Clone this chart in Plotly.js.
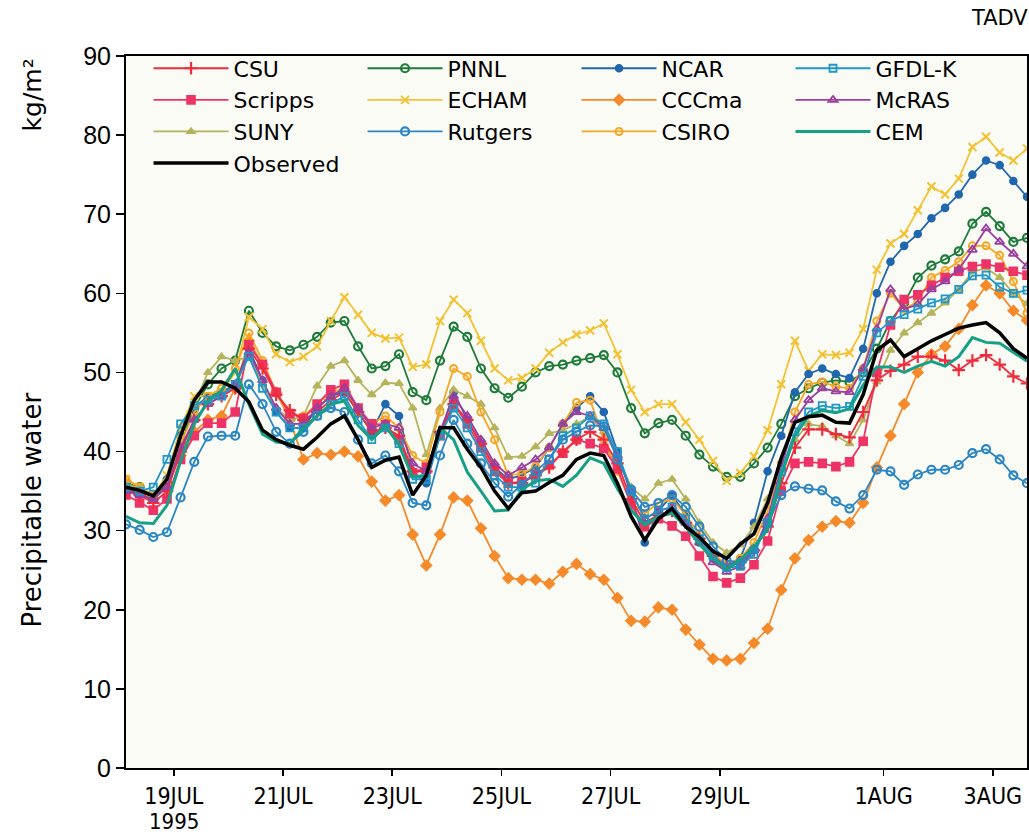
<!DOCTYPE html>
<html>
<head>
<meta charset="utf-8">
<script src="https://cdn.plot.ly/plotly-3.0.1.min.js"></script>
<style>html,body{margin:0;padding:0;background:#fff;}#chart{width:1029px;height:836px;}</style>
</head>
<body>
<div id="chart"></div>
<script>
// time (day of July 1995), values read every 6 h
const t = [18.125,18.375,18.625,18.875,19.125,19.375,19.625,19.875,20.125,20.375,20.625,20.875,21.125,21.375,21.625,21.875,22.125,22.375,22.625,22.875,23.125,23.375,23.625,23.875,24.125,24.375,24.625,24.875,25.125,25.375,25.625,25.875,26.125,26.375,26.625,26.875,27.125,27.375,27.625,27.875,28.125,28.375,28.625,28.875,29.125,29.375,29.625,29.875,30.125,30.375,30.625,30.875,31.125,31.375,31.625,31.875,32.125,32.375,32.625,32.875,33.125,33.375,33.625,33.875,34.125,34.375,34.625];

const tickVals = [19,21,23,25,27,29,32,34];
const tickText = ['19JUL','21JUL','23JUL','25JUL','27JUL','29JUL','1AUG','3AUG'];
const yearLabel = '1995';

const csu = [35,34.5,33.5,35,40,44,46,47,48,53, 50.5,47.2,45.2,44,45,46.5,47.5,45,42.5,43, 42,37.5,37.5,42.5,46,44,41,38,36,36, 37,38,40,41.5,42.5,41.5,38.5,34,31,32, 32.5,31,29,26.8,25.5,26,27.5,30.5,36,40.5, 42.8,42.8,42.2,41.8,45,49,50.2,51,52,52, 51.5,50.3,51.5,52.2,51,49.5,48.6];
const pnnl = [36,35.5,34,36,41,45.5,48.5,50.5,51.5,57.8, 55,53.3,52.8,53.5,54.5,56.3,56.5,53.3,50.5,50.8, 52.3,47.5,46.5,51.5,55.8,54.5,50.5,48,46.8,48.2, 50,50.8,51,51.5,51.8,52.2,50,45.5,42.3,43.6, 44,42,39.6,38.1,36.8,36.8,38.5,40.5,43.5,47, 48,48.7,49,48.8,50,53,56.5,58.8,62,63.5, 64.3,65.3,68.8,70.3,68.5,66.5,67];
const ncar = [35.5,34.5,34,36.5,42,45.5,47,47.5,48.5,53, 49,45,43,43,45.5,47,47.5,45,42.5,46, 44.5,37.5,36,42,47.5,44,41,38,36.5,37, 38,40.5,43.5,45.5,47,45,40,34.5,28.5,32.5, 34.5,32,28.5,26.5,25.5,26.5,31,37.5,42,47.5, 49.8,50.5,49.8,49.3,53,60,64,66,67.5,69.5, 70.8,72.5,75,76.8,76.2,74.2,72.2];
const gfdl = [35.5,35,35.5,39,43.5,45.8,46.5,47,48.5,52, 48,45,43,43,44.5,46,47,44,41.5,43, 41,36.5,36.5,42,45.5,43,40,37,35.5,35.5, 36,39,42,43,44.5,43.5,40,35,31.5,32.5, 33,31.5,29,26.8,25.3,25.5,27,31,37.5,42.5, 45,45.8,45.5,45.7,49.5,55,56.5,57.3,58,58.8, 59.3,60.5,62.2,62.3,60.8,60,60.4];
const scripps = [34.5,33.5,32.6,34,39,42,43.6,43.6,45,53.5, 51,47.5,44.8,44.2,46,47.8,48.5,45.5,43.5,43.4, 41.5,37.3,38,42,46,43.5,40.5,37.5,36,36.2, 37,38.3,39.8,41.5,41,40.4,37.8,33.3,30.5,31.5, 30.6,29.3,26.8,24.2,23.4,24,25.7,28.7,35,38.5, 38.7,38.5,38.1,38.7,41.3,50,56,59.2,59.8,61, 62,62.8,63.4,63.7,63.3,62.8,62.3];
const echam = [36.5,35.5,34.5,37,43,47,47,47.5,50,57, 55.5,52.3,51.3,52,53.3,56.5,59.5,57.3,55,54.3, 54.4,50.7,51,56.5,59.2,57.5,54,50.5,49,49.3, 50.5,52.5,53.8,54.8,55.3,56.2,52.3,47.8,45,46, 46,43.7,41.5,38.8,36.3,37.3,39.4,42.7,48.5,54, 50.2,52.3,52.2,52.5,55.5,63,66.3,67.5,70.5,73.5, 72.5,74.5,78.5,79.8,77.8,76.8,78.3];
const cccma = [36.2,35,34,35.5,39.5,42.5,44,44.5,48,54, 51,47.5,44,39,39.8,39.6,40,39.4,36.2,33.8, 34.5,29.5,25.6,29.5,34.2,33.8,30.3,26.8,24,23.8, 23.8,23.3,24.8,25.8,24.5,23.8,21.5,18.6,18.5,20.3, 20,17.5,15.6,13.8,13.6,13.8,15.8,17.6,22.5,26.5, 28.8,30.5,31.2,31,33.5,38,42,46,50,52.3, 53.3,55.5,58.5,61,60,57.8,56.6];
const mcras = [35,34.5,34,35.5,40.5,44,46,47,48.5,52.5, 49,45.5,43.5,43.5,45.5,47,48,45.5,43,43.5, 43,38.5,37.5,42.5,47,44.5,41.5,38.5,37,38, 39,40.5,43.5,45,44.5,43,39.5,35,31.5,32.5, 33,31,28.5,26,24.8,25.5,27.5,31.5,38,44, 46.5,48,47.6,47.5,50.5,55.5,60.5,58,58.6,60.5, 61.5,63,65.5,68.2,66.5,65,63.4];
const suny = [36,35.3,34.5,36.5,42,46,50,52,51.5,52, 48.5,45.5,44,44.5,48.3,50.8,51.5,49,47.2,48.7, 48.6,45.5,39.6,45.5,47.8,47,46,43,39.3,39.4, 40.6,42.3,42.7,43.5,44.4,42.5,39.5,35.5,34,36, 36.5,34,31,28.5,27.2,28.2,30.5,34,38,41.5, 43.5,43.2,42,41,44,48.8,52.8,55,56.3,57.5, 58.8,60.5,62.7,63.2,62,60,58.7];
const rutgers = [30.8,30.1,29.2,29.8,34.2,38.7,41.9,42,42,48.5, 46,42.5,41,42.5,44.5,45.5,45,41.5,38.5,39.5, 37.5,33.5,33.2,39.5,44,41,38.5,36,34.3,35.8, 37.5,39,41.5,42.5,43.3,43.2,39,35.2,33,33.5, 34.5,33,30.5,28,26.2,26,27.6,30.9,34.5,35.6, 35.3,35.1,33.7,32.8,34.5,37.7,37.5,35.8,37.1,37.7, 37.7,38.3,39.8,40.3,39,37,36];
const csiro = [36.5,35.5,34.5,36,41,45,47,48,50.5,55, 51.5,47.5,44.8,44.5,46,47.5,48,45,43.5,44.5, 43,39.5,38.5,45,50.5,49.5,45,41.5,37,37.2, 38.1,40.5,43.5,46.2,46.5,41.5,37.5,33.5,32.2,33.5, 34,32,29.5,27,25.8,26.5,28.5,32.5,38.5,45, 48.5,48.8,48.2,48,50.5,56.5,60,58,59,62, 62.9,64,66,66,64.8,61.5,57.5];
const cem = [31.8,31,30.9,33.2,38.8,43.5,46.4,47.7,50.5,46, 42.2,41.2,41,43,44.5,46,46.4,43.3,41.5,43.3, 40.8,36.8,37,43,41.5,37.4,35,32.5,32.6,35.2, 36.3,36.5,35.6,37,39.2,38.5,35.3,32.6,30.7,31.8, 32.2,30.5,28.3,26.4,25.1,26.3,28,30.1,37,42, 44.5,45.2,44.9,45.4,48.4,50.7,50.7,50,50.8,51.4, 50.8,52,54.4,53.8,53.7,52.6,51.4];
const observed = [35.5,35.1,34.4,36.5,42,46.5,48.8,48.8,48,46.3, 42.7,41.5,40.8,40.3,41.8,43.5,44.5,41.5,38,38.9, 39.3,34.5,37,43,43,40.3,38,35,32.8,34.8, 35,36.1,37,39,39.8,39.5,36,31.8,28.8,31.5, 32.8,30.5,29.2,27.4,26.5,28.3,29.6,33.5,39.2,43.7, 44.4,44.6,43.7,43.6,47.2,52.8,54.1,52,53,54, 54.8,55.6,56,56.3,55,53,51.8];

function mk(name, y, color, symbol, size, rank, mline) {
  return {
    type: 'scatter', mode: 'lines+markers', name: name, x: t, y: y,
    legendrank: rank,
    line: {color: color, width: 1.8},
    marker: {color: color, symbol: symbol, size: size, line: {color: color, width: mline || 1.6}}
  };
}

const traces = [
  mk('CCCma', cccma, '#f58a2a', 'diamond', 8, 7),
  mk('PNNL', pnnl, '#1e7b3a', 'circle-open', 8, 2, 2.2),
  mk('ECHAM', echam, '#f2c232', 'x-thin-open', 8, 6, 2),
  mk('NCAR', ncar, '#2067ad', 'circle', 7, 3),
  mk('SUNY', suny, '#b5b35c', 'triangle-up', 7, 9),
  mk('CSIRO', csiro, '#f5a623', 'circle-open', 7, 11, 2),
  mk('Scripps', scripps, '#ee3366', 'square', 8, 5),
  mk('CSU', csu, '#ee2d3c', 'cross-thin-open', 9, 1, 2.2),
  mk('McRAS', mcras, '#9a3fa0', 'triangle-up-open', 8, 8, 1.8),
  mk('GFDL-K', gfdl, '#1f97c9', 'square-open', 7, 4, 1.8),
  mk('Rutgers', rutgers, '#2a86c4', 'circle-open', 8, 10, 2.2),
  {type:'scatter', mode:'lines', name:'CEM', x:t, y:cem, legendrank:12, line:{color:'#16a085', width:3}},
  {type:'scatter', mode:'lines', name:'Observed', x:t, y:observed, legendrank:13, line:{color:'#000000', width:3.5}}
];

const tickFontFamily = 'Liberation Sans Narrow, DejaVu Sans Condensed, Liberation Sans, sans-serif';

const layout = {
  width: 1029, height: 836,
  margin: {l: 126, r: 2, t: 56, b: 68},
  paper_bgcolor: '#ffffff',
  plot_bgcolor: '#fbfbf6',
  showlegend: true,
  legend: {
    orientation: 'h', x: 0.025, y: 1.012, xanchor: 'left', yanchor: 'top',
    entrywidth: 124, entrywidthmode: 'pixels', itemwidth: 75,
    bgcolor: 'rgba(0,0,0,0)', traceorder: 'normal',
    font: {family: 'DejaVu Sans, Liberation Sans, sans-serif', size: 22, color: '#000'}
  },
  xaxis: {
    range: [18.125, 34.625], tickvals: tickVals, ticktext: tickText,
    ticks: 'outside', ticklen: 6, tickwidth: 1.5, tickcolor: '#000',
    showgrid: false, zeroline: false, showline: true, linecolor: '#000', linewidth: 2, mirror: true,
    tickfont: {family: tickFontFamily, size: 23, color: '#000'}
  },
  yaxis: {
    range: [0, 90], tickvals: [0,10,20,30,40,50,60,70,80,90],
    ticks: 'outside', ticklen: 8, tickwidth: 1.5, tickcolor: '#000',
    showgrid: false, zeroline: false, showline: true, linecolor: '#000', linewidth: 2, mirror: true,
    tickfont: {family: 'Liberation Sans, Arial, sans-serif', size: 25, color: '#000'}
  },
  annotations: [
    {text: yearLabel, xref: 'x', yref: 'paper', x: tickVals[0], y: -0.0945,
     showarrow: false, xanchor: 'center', yanchor: 'bottom', borderpad: 0,
     font: {family: tickFontFamily, size: 22, color: '#000'}},
    {text: 'Precipitable water', xref: 'paper', yref: 'paper', x: -0.104, y: 0.362, textangle: -90,
     showarrow: false, xanchor: 'center', yanchor: 'middle', font: {family: 'DejaVu Sans, Liberation Sans, sans-serif', size: 26, color: '#000'}},
    {text: 'kg/m²', xref: 'paper', yref: 'paper', x: -0.104, y: 0.945, textangle: -90,
     showarrow: false, xanchor: 'center', yanchor: 'middle', font: {family: 'DejaVu Sans, Liberation Sans, sans-serif', size: 25, color: '#000'}},
    {text: 'TADV', xref: 'paper', yref: 'paper', x: 0.970, y: 1.053,
     showarrow: false, xanchor: 'center', yanchor: 'middle', font: {family: 'DejaVu Sans, Liberation Sans, sans-serif', size: 21, color: '#000'}}
  ]
};

Plotly.newPlot('chart', traces, layout, {displayModeBar: false, staticPlot: true});
</script>
</body>
</html>
